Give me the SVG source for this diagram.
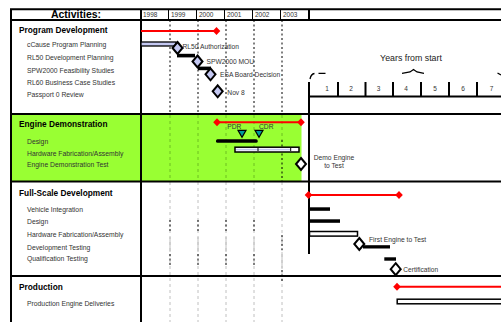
<svg xmlns="http://www.w3.org/2000/svg" width="501" height="322" viewBox="0 0 501 322">
<style>
text{font-family:"Liberation Sans",Arial,sans-serif}
.h{font-size:8.3px;font-weight:bold;fill:#000}
.a{font-size:6.8px;fill:#333}
.yr{font-size:6.5px;fill:#333}
.lb{font-size:6.7px;fill:#333}
.num{font-size:6.5px;fill:#333;text-anchor:middle}
.fr{stroke:#000;stroke-width:2;fill:none}
.thin{stroke:#000;stroke-width:1;fill:none}
.dotk{stroke:#000;stroke-width:1;stroke-dasharray:2,2.5;fill:none}
.dotg{stroke:#c0c0c0;stroke-width:1;stroke-dasharray:3,3;fill:none}
.solg{stroke:#c0c0c0;stroke-width:1;fill:none}
.dotgr{stroke:#6cc020;stroke-width:1;stroke-dasharray:3,3;fill:none}
.red{stroke:#f00;stroke-width:2;fill:none}
.bar{fill:#000}
.obar{fill:#fff;stroke:#000;stroke-width:1.5}
.dw{fill:#fff;stroke:#000;stroke-width:2}
.dl{fill:#c4c8f2;stroke:#000;stroke-width:2}
.rd{fill:#f00}
.tri{fill:#009c9c;stroke:#000;stroke-width:1.2}
.br{stroke:#000;stroke-width:1.3;fill:none}
</style>
<defs>
<path id="dia" d="M0,-6 L5,0 L0,6 L-5,0 Z"/>
<path id="rdia" d="M0,-4 L3.8,0 L0,4 L-3.8,0 Z"/>
<path id="tri" d="M-4,0 L4,0 L0,7 Z"/>
</defs>
<rect width="501" height="322" fill="#fff"/>
<g id="green-band">
<rect x="12" y="115" width="128" height="66" fill="#99ff33"/>
<rect x="142" y="115" width="159.5" height="66" fill="#99ff33"/>
</g>
<g id="grid">
<path class="dotk" d="M170,20V114M198,20V114M226,20V114M254,20V114M282,20V114"/>
<path class="dotgr" d="M170,115V181M198,115V181M226,115V181M254,115V181M282,115V140"/>
<path class="dotk" d="M282,140V181"/>
<path class="dotg" d="M170,182V322M198,182V322M226,182V322M254,182V322M282,182V322"/>
<path class="dotk" d="M170,220V233M198,220V233M226,220V233M254,220V233M170,254V267M198,254V267M226,254V267M254,254V267M282,235V250M282,270V283"/>
<path class="solg" d="M170,237V252M198,237V252M226,237V252M254,237V252M282,252V268"/>
</g>
<g id="frame">
<path class="fr" d="M10,9.3H501M10,20H501M10,114H501M10,181.5H501M10,276H501M11,8.3V322M141,8.3V322M309,8.3V20M309,82V254"/>
<path class="thin" d="M168.5,9V20M196.5,9V20M224.5,9V20M252.5,9V20M280.5,9V20"/>
</g>
<g id="header">
<text x="76" y="18" font-size="10.5" font-weight="bold" text-anchor="middle">Activities:</text>
<text class="yr" x="143" y="17">1998</text>
<text class="yr" x="171" y="17">1999</text>
<text class="yr" x="199" y="17">2000</text>
<text class="yr" x="227" y="17">2001</text>
<text class="yr" x="255" y="17">2002</text>
<text class="yr" x="283" y="17">2003</text>
</g>
<g id="years-axis">
<text x="411" y="61" font-size="8.8" fill="#222" text-anchor="middle">Years from start</text>
<path class="br" d="M310,79 Q311,74 314.5,73.5M318.5,73.3H325.5M402,73.3L410,72L413.5,69.5L417,72L424,73.3M497.5,73L501,75"/>
<path stroke="#000" stroke-width="2" fill="none" d="M309,96.5H501M338,82V96M365.5,82V96M393,82V96M421,82V96M449,82V96M477,82V96"/>
<text class="num" x="327" y="90.7">1</text>
<text class="num" x="351" y="90.7">2</text>
<text class="num" x="378.5" y="90.7">3</text>
<text class="num" x="406" y="90.7">4</text>
<text class="num" x="435" y="90.7">5</text>
<text class="num" x="463" y="90.7">6</text>
<text class="num" x="491.5" y="90.7">7</text>
</g>
<g id="program-development">
<text class="h" x="19" y="32.5">Program Development</text>
<text class="a" x="27" y="47">cCause Program Planning</text>
<text class="a" x="27" y="60">RL50 Development Planning</text>
<text class="a" x="27" y="72.5">SPW2000 Feasibility Studies</text>
<text class="a" x="27" y="85">RL60 Business Case Studies</text>
<text class="a" x="27" y="97.3">Passport 0 Review</text>
<path class="red" d="M141,31H216"/>
<use href="#rdia" class="rd" x="216.5" y="31"/>
<rect x="141" y="42" width="35" height="4" fill="#c4c8f2" stroke="#000" stroke-width="1.3"/>
<rect class="bar" x="177" y="53.8" width="18" height="3.6"/>
<rect class="bar" x="198" y="66.6" width="13" height="3.6"/>
<use href="#dia" class="dl" x="177.5" y="48"/>
<use href="#dia" class="dl" x="197.5" y="61.5"/>
<use href="#dia" class="dl" x="210.5" y="74.3"/>
<use href="#dia" class="dl" x="217.7" y="91.3"/>
<text class="lb" x="182.5" y="49">RL50 Authorization</text>
<text class="lb" x="206.5" y="64">SPW2000 MOU</text>
<text class="lb" x="220" y="77">ESA Board Decision</text>
<text class="lb" x="227.3" y="94.7">Nov 8</text>
</g>
<g id="engine-demonstration">
<text class="h" x="19" y="126.8">Engine  Demonstration</text>
<text class="a" x="27" y="144">Design</text>
<text class="a" x="27" y="155.7">Hardware Fabrication/Assembly</text>
<text class="a" x="27" y="167.3">Engine Demonstration Test</text>
<path class="red" d="M217,122.3H301"/>
<use href="#rdia" class="rd" x="217" y="122.3"/>
<use href="#rdia" class="rd" x="301" y="122.3"/>
<text class="lb" x="227.3" y="129.3" fill="#333">PDR</text>
<text class="lb" x="259" y="129.3" fill="#333">CDR</text>
<use href="#tri" class="tri" x="242" y="130.3"/>
<use href="#tri" class="tri" x="259" y="130.3"/>
<rect class="bar" x="216" y="139.3" width="41.7" height="3.5" rx="1.5"/>
<rect class="obar" x="235" y="147.2" width="64" height="4.8"/>
<rect x="236" y="148.8" width="54.5" height="1.6" fill="#c4c8f2"/>
<path stroke="#000" stroke-width="1" d="M258,148V151M290.7,148V151"/>
<use href="#dia" class="dw" x="301" y="164"/>
<text class="lb" x="334" y="160" text-anchor="middle" fill="#444">Demo Engine</text>
<text class="lb" x="334" y="167.5" text-anchor="middle" fill="#444">to Test</text>
</g>
<g id="full-scale-development">
<text class="h" x="19" y="196.3">Full-Scale Development</text>
<text class="a" x="27" y="211.5">Vehicle Integration</text>
<text class="a" x="27" y="223.5">Design</text>
<text class="a" x="27" y="237">Hardware Fabrication/Assembly</text>
<text class="a" x="27" y="249.5">Development Testing</text>
<text class="a" x="27" y="261.3">Qualification Testing</text>
<path class="red" d="M308.5,195H399"/>
<use href="#rdia" class="rd" x="308.5" y="195"/>
<use href="#rdia" class="rd" x="399" y="195"/>
<rect class="bar" x="309" y="207.3" width="21" height="3.5"/>
<rect class="bar" x="309" y="219.3" width="31" height="3.5"/>
<rect class="obar" x="309.5" y="231.5" width="48" height="4.6"/>
<rect class="bar" x="363" y="245.2" width="27" height="3.3"/>
<rect class="bar" x="384.3" y="257.3" width="11.7" height="3.4"/>
<use href="#dia" class="dw" x="359.3" y="244"/>
<use href="#dia" class="dw" x="395.7" y="269.2"/>
<text class="lb" x="369" y="242">First Engine to Test</text>
<text x="403.3" y="271.7" font-size="6.6" fill="#333">Certification</text>
</g>
<g id="production">
<text class="h" x="19" y="290.3">Production</text>
<text class="a" x="27" y="305.5">Production Engine Deliveries</text>
<path class="red" d="M397,286.7H501"/>
<use href="#rdia" class="rd" x="397" y="286.7"/>
<rect class="obar" x="397.2" y="299.2" width="106" height="4.6"/>
</g>
</svg>
